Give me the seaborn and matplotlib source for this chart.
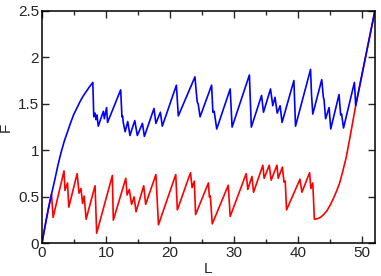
import pandas as pd
import seaborn as sns
import matplotlib.pyplot as plt
from matplotlib.ticker import MultipleLocator

# shared rising part (both curves start together)
start_L = [0, 0.5, 1.0, 1.5]
start_F = [0, 0.19, 0.37, 0.53]

# shared final rise (both curves end together)
tail_L = [49.0, 49.5, 50.0, 50.5, 51.0, 51.5, 52.0]
tail_F = [1.48, 1.65, 1.82, 1.99, 2.16, 2.33, 2.50]

blue_L = [2.0, 2.5, 3.0, 3.5, 4.0, 4.5, 5.0, 5.5, 6.0, 6.5, 7.0, 7.5, 7.95,
          8.1, 8.3, 8.45, 8.6, 8.8, 9.6, 9.75, 10.1, 10.25, 12.3,
          12.5, 12.6, 12.7, 13.0, 13.4, 13.75, 14.5, 14.9, 15.7, 16.0,
          17.5, 17.8, 18.5, 18.8, 21.0, 21.3, 23.9, 24.1, 24.25, 24.4, 24.7,
          26.5, 26.7, 26.9, 27.3, 29.4, 29.7, 32.4, 32.7, 34.3, 34.6,
          35.7, 36.05, 36.4, 36.75, 37.2, 37.5, 39.35, 39.6, 41.95, 42.1, 42.3,
          43.7, 43.95, 44.05, 44.3, 44.85, 45.1, 46.4, 46.65, 46.8, 47.1, 48.8]
blue_F = [0.68, 0.84, 0.98, 1.10, 1.20, 1.30, 1.39, 1.46, 1.53, 1.59, 1.64, 1.69, 1.73,
          1.36, 1.40, 1.33, 1.38, 1.26, 1.42, 1.34, 1.46, 1.30, 1.65,
          1.36, 1.37, 1.30, 1.20, 1.31, 1.16, 1.32, 1.16, 1.29, 1.15,
          1.45, 1.29, 1.41, 1.26, 1.70, 1.37, 1.79, 1.63, 1.52, 1.50, 1.36,
          1.70, 1.41, 1.42, 1.23, 1.66, 1.25, 1.81, 1.25, 1.59, 1.41,
          1.66, 1.48, 1.57, 1.40, 1.48, 1.30, 1.75, 1.26, 1.87, 1.60, 1.39,
          1.76, 1.57, 1.55, 1.34, 1.46, 1.23, 1.60, 1.38, 1.39, 1.24, 1.73]

red_L = [1.75, 3.45, 3.6, 4.0, 4.2, 5.5, 5.8, 6.1, 6.35, 6.6, 6.9, 8.3, 8.55,
         11.0, 11.15, 13.1, 13.3, 13.65, 14.0, 14.4, 14.7, 15.9, 16.2, 17.8, 18.2,
         20.9, 21.15, 23.2, 23.45, 23.8, 24.0, 26.0, 26.15, 26.3, 26.6, 29.1, 29.4,
         31.9, 32.15, 32.8, 33.05, 34.5, 34.7, 35.5, 35.8, 36.7, 36.9, 37.55, 37.8,
         38.0, 38.2, 40.3, 40.6, 41.8, 42.0, 42.3, 42.55,
         43.0, 43.5, 44.0, 44.5, 45.0, 45.5, 46.0, 46.5, 47.0, 47.5, 48.0, 48.5]
red_F = [0.28, 0.78, 0.57, 0.65, 0.39, 0.75, 0.54, 0.59, 0.43, 0.51, 0.26, 0.62, 0.11,
         0.73, 0.25, 0.70, 0.52, 0.58, 0.42, 0.50, 0.34, 0.62, 0.42, 0.74, 0.20,
         0.74, 0.36, 0.76, 0.60, 0.67, 0.31, 0.65, 0.50, 0.51, 0.21, 0.625, 0.29,
         0.75, 0.58, 0.72, 0.55, 0.84, 0.70, 0.84, 0.68, 0.84, 0.70, 0.82, 0.66,
         0.67, 0.36, 0.69, 0.55, 0.76, 0.59, 0.65, 0.26,
         0.265, 0.28, 0.31, 0.35, 0.41, 0.48, 0.56, 0.65, 0.78, 0.92, 1.10, 1.29]

y_ticks = [0, 0.5, 1, 1.5, 2, 2.5]
y_ticklabels = ["0", "0.5", "1", "1.5", "2", "2.5"]

blue = pd.DataFrame({"L": start_L + blue_L + tail_L, "F": start_F + blue_F + tail_F})
red = pd.DataFrame({"L": start_L + red_L + tail_L, "F": start_F + red_F + tail_F})

sns.set_style("ticks")
plt.rcParams['font.family'] = ['Liberation Sans', 'DejaVu Sans']

fig = plt.figure(figsize=(3.81, 2.76), dpi=100)
ax = fig.add_axes([0.110, 0.118, 0.874, 0.843])

# red first so the blue line sits on top where they overlap
sns.lineplot(data=red, x="L", y="F", color="#ff0000", lw=1.2, sort=False, estimator=None, ax=ax)
sns.lineplot(data=blue, x="L", y="F", color="#0000ff", lw=1.2, sort=False, estimator=None, ax=ax)

ax.set_xlim(0, 52)
ax.set_ylim(0, 2.5)
ax.xaxis.set_major_locator(MultipleLocator(10))
ax.xaxis.set_minor_locator(MultipleLocator(5))
ax.set_yticks(y_ticks)
ax.set_yticklabels(y_ticklabels)
ax.tick_params(which="both", direction="in", top=True, right=True, labelsize=11, pad=2)
ax.tick_params(which="major", length=5, width=1)
ax.tick_params(which="minor", length=3, width=1)
for s in ax.spines.values():
    s.set_linewidth(1.1)
    s.set_color("black")

ax.set_xlabel("L", fontsize=11, labelpad=1)
ax.set_ylabel("F", fontsize=11, labelpad=4)

fig.savefig("out.png", dpi=100)
